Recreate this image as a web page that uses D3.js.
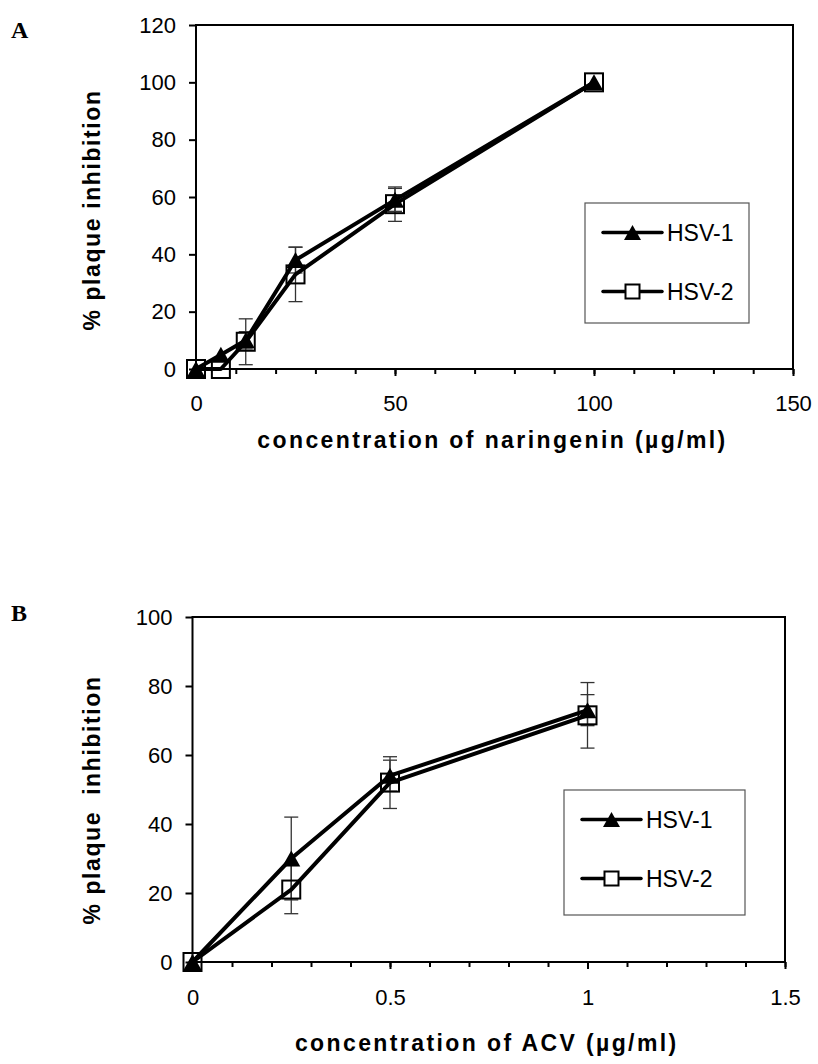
<!DOCTYPE html>
<html>
<head>
<meta charset="utf-8">
<script src="https://cdn.jsdelivr.net/npm/d3@7"></script>
<style>
  body { margin: 0; background: #fff; }
  svg { display: block; }
</style>
</head>
<body>
<script>
// panel A: naringenin
const concA = [0, 6.25, 12.5, 25, 50, 100];
const hsv1A = [0, 5, 10, 38, 59, 100];
const hsv1A_sd = [0, 0, 3, 4.5, 4, 0];
const hsv2A = [0, 0, 9.5, 33, 57.5, 100];
const hsv2A_sd = [0, 0, 8, 9.5, 6, 0];

// panel B: ACV
const concB = [0, 0.25, 0.5, 1];
const hsv1B = [0, 30, 54, 73];
const hsv1B_sd = [0, 12, 4.5, 4.5];
const hsv2B = [0, 21, 52, 71.5];
const hsv2B_sd = [2.5, 7, 7.5, 9.5];

const seriesNames = ["HSV-1", "HSV-2"];

const W = 818, H = 1064;
const svg = d3.select("body").append("svg")
    .attr("width", W).attr("height", H)
    .attr("viewBox", [0, 0, W, H]);

const font = "'Liberation Sans', Arial, sans-serif";

function triangle(g, cx, cy, w, h) {
    g.append("path")
        .attr("d", `M${cx},${cy - h / 2}L${cx + w / 2},${cy + h / 2}L${cx - w / 2},${cy + h / 2}Z`)
        .attr("fill", "#000");
}
function square(g, cx, cy, s, fill) {
    g.append("rect")
        .attr("x", cx - s / 2).attr("y", cy - s / 2)
        .attr("width", s).attr("height", s)
        .attr("fill", fill).attr("stroke", "#000").attr("stroke-width", 2);
}

function panel(opt) {
    const x = d3.scaleLinear().domain(opt.xDomain).range([opt.left, opt.right]);
    const y = d3.scaleLinear().domain(opt.yDomain).range([opt.bottom, opt.top]);
    const g = svg.append("g");

    // frame
    g.append("rect")
        .attr("x", opt.left).attr("y", opt.top)
        .attr("width", opt.right - opt.left).attr("height", opt.bottom - opt.top)
        .attr("fill", "none").attr("stroke", "#000").attr("stroke-width", 2);

    // x axis: minor then major with labels
    g.append("g")
        .attr("transform", `translate(0,${opt.bottom})`)
        .call(d3.axisBottom(x).tickValues(opt.xMinor).tickSize(5).tickFormat(""))
        .call(a => a.select(".domain").remove())
        .selectAll("line").attr("stroke-width", 2);
    const xa = g.append("g")
        .attr("transform", `translate(0,${opt.bottom})`)
        .call(d3.axisBottom(x).tickValues(opt.xMajor).tickSize(7).tickPadding(opt.xPad).tickFormat(d3.format("")));
    xa.select(".domain").remove();
    xa.selectAll("line").attr("stroke-width", 2);
    xa.selectAll("text").style("font-family", font).style("font-size", "22px").attr("fill", "#000");

    const ya = g.append("g")
        .attr("transform", `translate(${opt.left},0)`)
        .call(d3.axisLeft(y).tickValues(opt.yTicks).tickSize(7).tickPadding(13));
    ya.select(".domain").remove();
    ya.selectAll("line").attr("stroke-width", 2);
    ya.selectAll("text").style("font-family", font).style("font-size", "22px").attr("fill", "#000");

    // titles
    g.append("text")
        .attr("x", (opt.left + opt.right) / 2 - 2).attr("y", opt.xTitleY)
        .attr("text-anchor", "middle")
        .style("font-family", font).style("font-size", "23px").style("font-weight", "bold")
        .style("letter-spacing", "2.4px").style("white-space", "pre")
        .text(opt.xTitle);
    g.append("text")
        .attr("transform", `translate(${opt.yTitleX},${opt.yTitleY}) rotate(-90)`)
        .attr("text-anchor", "middle")
        .style("font-family", font).style("font-size", "23px").style("font-weight", "bold")
        .style("letter-spacing", "1.6px").style("white-space", "pre")
        .text(opt.yTitle);
    svg.append("text")
        .attr("x", 11).attr("y", opt.letterY)
        .style("font-family", "'Liberation Serif', 'Times New Roman', serif")
        .style("font-size", "24px").style("font-weight", "bold")
        .text(opt.letter);

    const line = d3.line().x(d => x(d[0])).y(d => y(d[1]));
    const s1 = opt.xs.map((c, i) => [c, opt.s1[i], opt.s1sd[i]]);
    const s2 = opt.xs.map((c, i) => [c, opt.s2[i], opt.s2sd[i]]);

    // error bars
    const eb = g.append("g").attr("stroke", "#333").attr("stroke-width", 1.3);
    [s1, s2].forEach(s => s.filter(d => d[2] > 0).forEach(d => {
        const cx = x(d[0]), y1 = y(d[1] + d[2]), y0 = y(d[1] - d[2]);
        eb.append("line").attr("x1", cx).attr("x2", cx).attr("y1", y1).attr("y2", y0);
        eb.append("line").attr("x1", cx - 7).attr("x2", cx + 7).attr("y1", y1).attr("y2", y1);
        eb.append("line").attr("x1", cx - 7).attr("x2", cx + 7).attr("y1", y0).attr("y2", y0);
    }));

    g.append("path").datum(s2).attr("d", line)
        .attr("fill", "none").attr("stroke", "#000").attr("stroke-width", 4).attr("stroke-linejoin", "round");
    g.append("path").datum(s1).attr("d", line)
        .attr("fill", "none").attr("stroke", "#000").attr("stroke-width", 4).attr("stroke-linejoin", "round");

    const mk = g.append("g");
    s1.forEach(d => triangle(mk, x(d[0]), y(d[1]), 18, 16));
    s2.forEach(d => square(mk, x(d[0]), y(d[1]), 18, "none"));

    // legend
    const L = opt.legend;
    const lg = g.append("g");
    lg.append("rect")
        .attr("x", L.x).attr("y", L.y).attr("width", L.w).attr("height", L.h)
        .attr("fill", "#fff").attr("stroke", "#555").attr("stroke-width", 1.2);
    seriesNames.forEach((name, i) => {
        const ly = L.y + 29.5 + i * 59;
        const lx0 = L.x + 18, lx1 = L.x + 77;
        lg.append("line").attr("x1", lx0).attr("x2", lx1).attr("y1", ly).attr("y2", ly)
            .attr("stroke", "#000").attr("stroke-width", 3.5).attr("stroke-linecap", "round");
        if (i === 0) triangle(lg, (lx0 + lx1) / 2, ly, 17, 15);
        else square(lg, (lx0 + lx1) / 2, ly, 14, "#fff");
        lg.append("text")
            .attr("x", lx1 + 5).attr("y", ly).attr("dy", "0.36em")
            .style("font-family", font).style("font-size", "23px")
            .text(name);
    });
}

panel({
    letter: "A", letterY: 38,
    xDomain: [0, 150], yDomain: [0, 120],
    left: 196, right: 793, top: 25, bottom: 369,
    xMajor: [0, 50, 100, 150], xMinor: d3.range(0, 151, 10), yTicks: d3.range(0, 121, 20),
    xPad: 19,
    xs: concA, s1: hsv1A, s1sd: hsv1A_sd, s2: hsv2A, s2sd: hsv2A_sd,
    xTitle: "concentration of naringenin (µg/ml)", xTitleY: 448,
    yTitle: "% plaque inhibition", yTitleX: 100, yTitleY: 210,
    legend: {x: 585, y: 203, w: 164, h: 120}
});

panel({
    letter: "B", letterY: 621,
    xDomain: [0, 1.5], yDomain: [0, 100],
    left: 192.5, right: 785, top: 617, bottom: 962,
    xMajor: [0, 0.5, 1, 1.5], xMinor: d3.range(0, 16).map(i => i / 10), yTicks: d3.range(0, 101, 20),
    xPad: 20,
    xs: concB, s1: hsv1B, s1sd: hsv1B_sd, s2: hsv2B, s2sd: hsv2B_sd,
    xTitle: "concentration of ACV (µg/ml)", xTitleY: 1051,
    yTitle: "% plaque  inhibition", yTitleX: 100, yTitleY: 800,
    legend: {x: 564, y: 790, w: 181, h: 125}
});
</script>
</body>
</html>
